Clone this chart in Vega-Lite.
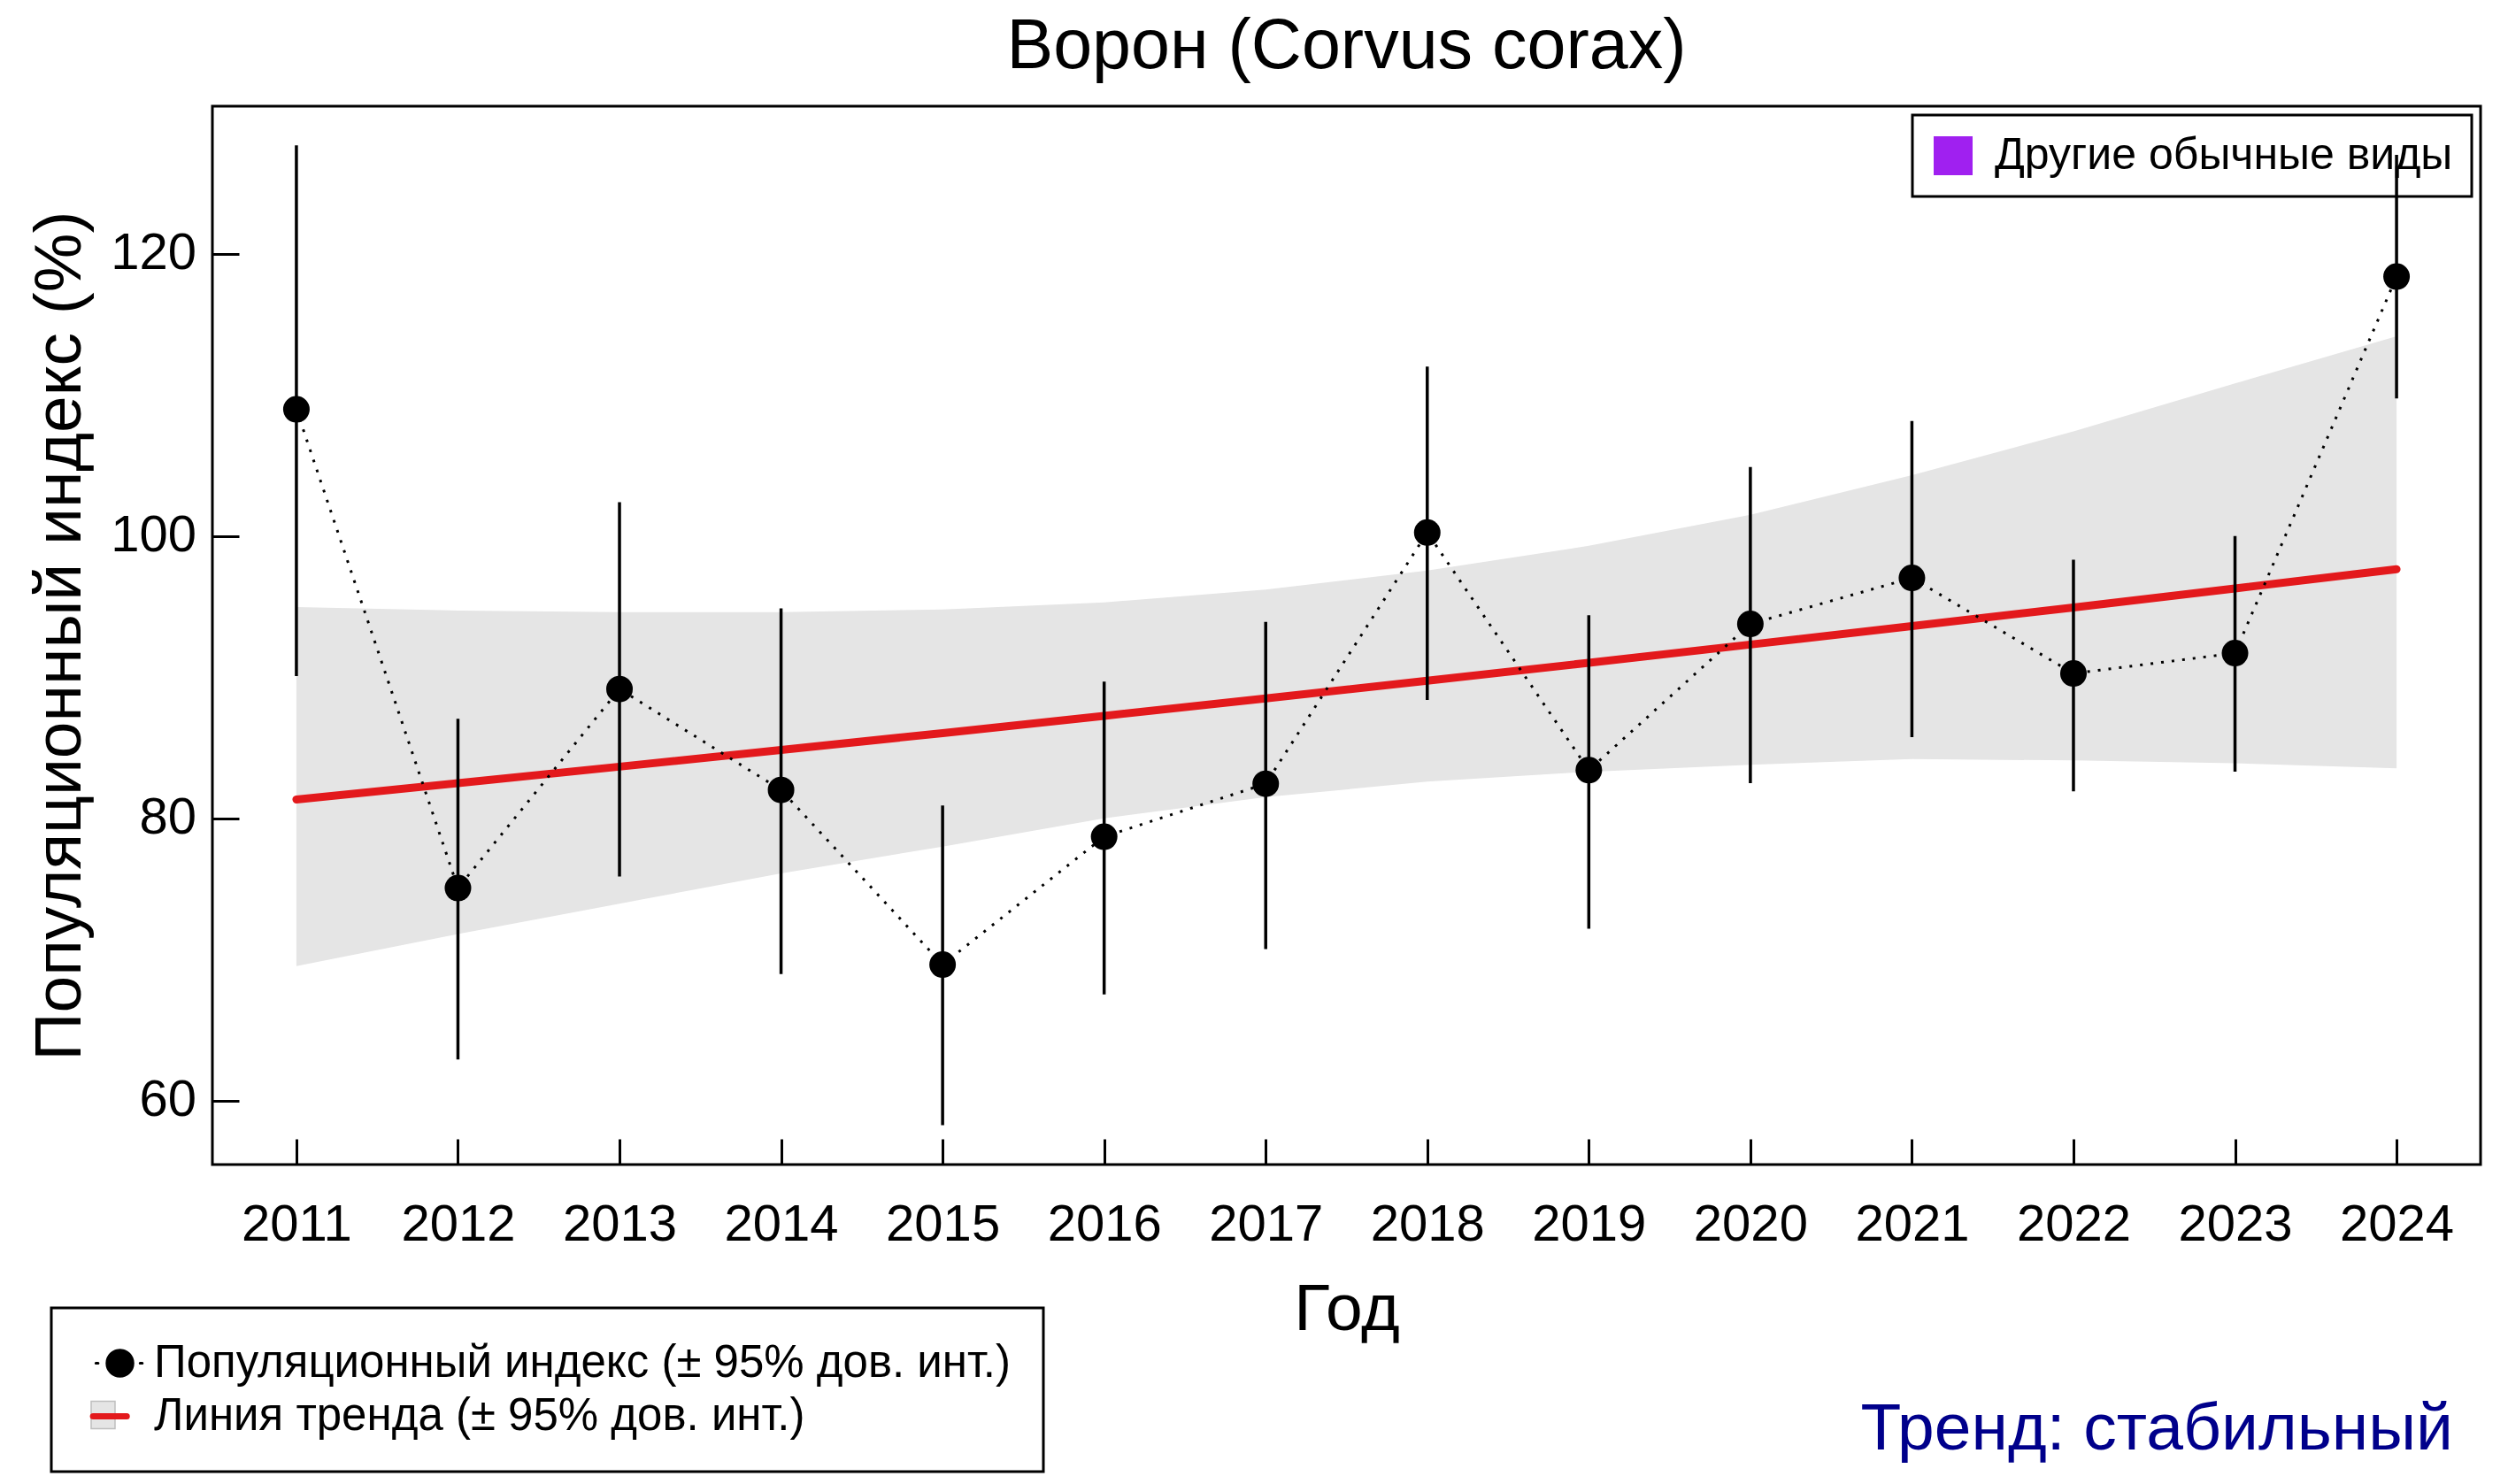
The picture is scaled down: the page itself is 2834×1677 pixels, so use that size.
{
  "$schema": "https://vega.github.io/schema/vega-lite/v6.json",
  "width": 2563,
  "height": 1196,
  "autosize": {"type": "none"},
  "padding": {"left": 240, "top": 120, "right": 31, "bottom": 361},
  "background": "white",
  "title": {"text": "Ворон (Corvus corax)", "fontSize": 79, "fontWeight": "normal", "font": "Liberation Sans", "color": "black", "anchor": "middle", "frame": "group", "baseline": "alphabetic", "offset": -36},
  "data": {"values": [
    {"year": 2011, "index": 108.97, "lo": 90.07, "hi": 127.67, "trend": 81.34, "tlo": 69.54, "thi": 94.96},
    {"year": 2012, "index": 75.06, "lo": 62.93, "hi": 87.05, "trend": 82.49, "tlo": 71.8, "thi": 94.72},
    {"year": 2013, "index": 89.16, "lo": 75.88, "hi": 102.4, "trend": 83.66, "tlo": 73.96, "thi": 94.6},
    {"year": 2014, "index": 82.01, "lo": 68.97, "hi": 94.87, "trend": 84.84, "tlo": 76.1, "thi": 94.6},
    {"year": 2015, "index": 69.64, "lo": 58.27, "hi": 80.91, "trend": 86.04, "tlo": 78.0, "thi": 94.8},
    {"year": 2016, "index": 78.7, "lo": 67.53, "hi": 89.69, "trend": 87.26, "tlo": 80.0, "thi": 95.3},
    {"year": 2017, "index": 82.45, "lo": 70.74, "hi": 93.91, "trend": 88.5, "tlo": 81.5, "thi": 96.2},
    {"year": 2018, "index": 100.24, "lo": 88.39, "hi": 111.99, "trend": 89.75, "tlo": 82.6, "thi": 97.55},
    {"year": 2019, "index": 83.41, "lo": 72.18, "hi": 94.39, "trend": 91.02, "tlo": 83.3, "thi": 99.3},
    {"year": 2020, "index": 93.77, "lo": 82.49, "hi": 104.89, "trend": 92.31, "tlo": 83.8, "thi": 101.5},
    {"year": 2021, "index": 97.03, "lo": 85.76, "hi": 108.15, "trend": 93.62, "tlo": 84.2, "thi": 104.3},
    {"year": 2022, "index": 90.26, "lo": 81.92, "hi": 98.32, "trend": 94.94, "tlo": 84.1, "thi": 107.4},
    {"year": 2023, "index": 91.7, "lo": 83.31, "hi": 100.0, "trend": 96.28, "tlo": 83.9, "thi": 110.8},
    {"year": 2024, "index": 118.37, "lo": 109.74, "hi": 127.0, "trend": 97.65, "tlo": 83.55, "thi": 114.15}
  ]},
  "layer": [
    {
      "mark": {"type": "area", "opacity": 1},
      "encoding": {
        "x": {"field": "year", "type": "quantitative", "scale": {"domain": [2010.48, 2024.52], "nice": false, "zero": false},
          "axis": {"values": [2011, 2012, 2013, 2014, 2015, 2016, 2017, 2018, 2019, 2020, 2021, 2022, 2023, 2024], "format": "d", "tickSize": -29, "labelPadding": 68, "labelFlush": false, "labelOverlap": false, "title": "Год", "titleX": 1281.5, "titleY": 186, "titleBaseline": "alphabetic", "titleAlign": "center"}},
        "y": {"field": "tlo", "type": "quantitative", "scale": {"domain": [55.48, 130.44], "nice": false, "zero": false},
          "axis": {"values": [60, 80, 100, 120], "tickSize": -30, "labelPadding": 48.5, "labelFlush": false, "labelOverlap": false, "title": "Популяционный индекс (%)", "titleX": -150, "titleY": 598, "titleAngle": 270, "titleBaseline": "alphabetic", "titleAlign": "center"}},
        "y2": {"field": "thi"},
        "fill": {"datum": "Линия тренда (± 95% дов. инт.)", "scale": {"domain": ["Линия тренда (± 95% дов. инт.)"], "range": ["#E5E5E5"]},
          "legend": {"orient": "none", "legendX": -140, "legendY": 1462.5, "title": null, "padding": 0, "symbolType": "M-0.87,-1H0.87V1H-0.87Z", "symbolSize": 961, "symbolStrokeColor": "#BEBEBE", "symbolStrokeWidth": 1.5, "symbolOpacity": 1, "labelFontSize": 2, "labelExpr": "''"}}
      }
    },
    {
      "mark": {"type": "line", "strokeWidth": 9, "strokeCap": "round"},
      "encoding": {
        "x": {"field": "year", "type": "quantitative", "scale": {"domain": [2010.48, 2024.52], "nice": false, "zero": false},
          "axis": {"values": [2011, 2012, 2013, 2014, 2015, 2016, 2017, 2018, 2019, 2020, 2021, 2022, 2023, 2024], "format": "d", "tickSize": -29, "labelPadding": 68, "labelFlush": false, "labelOverlap": false, "title": "Год", "titleX": 1281.5, "titleY": 186, "titleBaseline": "alphabetic", "titleAlign": "center"}},
        "y": {"field": "trend", "type": "quantitative", "scale": {"domain": [55.48, 130.44], "nice": false, "zero": false},
          "axis": {"values": [60, 80, 100, 120], "tickSize": -30, "labelPadding": 48.5, "labelFlush": false, "labelOverlap": false, "title": "Популяционный индекс (%)", "titleX": -150, "titleY": 598, "titleAngle": 270, "titleBaseline": "alphabetic", "titleAlign": "center"}},
        "stroke": {"datum": "Линия тренда (± 95% дов. инт.)", "scale": {"domain": ["Популяционный индекс (± 95% дов. инт.)", "Линия тренда (± 95% дов. инт.)"], "range": ["black", "#E3191C"]},
          "legend": {"orient": "none", "legendX": -182, "legendY": 1358, "title": null, "direction": "vertical", "padding": 37, "rowPadding": 8, "symbolSize": 4096, "symbolOffset": 8, "labelFontSize": 51, "labelOffset": 20, "labelLimit": 0, "labelColor": "black", "strokeColor": "black",
            "encode": {
              "legend": {"update": {"strokeWidth": {"signal": "3"}}},
              "symbols": {"update": {
                "shape": {"signal": "datum.index === 0 ? 'M-0.24,0A0.46,0.46 0 1,0 0.68,0A0.46,0.46 0 1,0 -0.24,0Z M-0.63,0H-0.55 M0.93,0H1.01' : 'M-0.73,0H0.46'"},
                "size": {"signal": "4096"},
                "fill": {"signal": "datum.index === 0 ? 'black' : 'transparent'"},
                "stroke": {"signal": "datum.index === 0 ? 'black' : '#E3191C'"},
                "strokeWidth": {"signal": "datum.index === 0 ? 3 : 7"},
                "strokeCap": {"signal": "'round'"},
                "opacity": {"signal": "1"}
              }}
            }}}
      }
    },
    {
      "mark": {"type": "rule", "strokeWidth": 3.5, "color": "black"},
      "encoding": {
        "x": {"field": "year", "type": "quantitative", "scale": {"domain": [2010.48, 2024.52], "nice": false, "zero": false},
          "axis": {"values": [2011, 2012, 2013, 2014, 2015, 2016, 2017, 2018, 2019, 2020, 2021, 2022, 2023, 2024], "format": "d", "tickSize": -29, "labelPadding": 68, "labelFlush": false, "labelOverlap": false, "title": "Год", "titleX": 1281.5, "titleY": 186, "titleBaseline": "alphabetic", "titleAlign": "center"}},
        "y": {"field": "lo", "type": "quantitative", "scale": {"domain": [55.48, 130.44], "nice": false, "zero": false},
          "axis": {"values": [60, 80, 100, 120], "tickSize": -30, "labelPadding": 48.5, "labelFlush": false, "labelOverlap": false, "title": "Популяционный индекс (%)", "titleX": -150, "titleY": 598, "titleAngle": 270, "titleBaseline": "alphabetic", "titleAlign": "center"}},
        "y2": {"field": "hi"},
        "opacity": {"datum": "Другие обычные виды", "scale": {"domain": ["Другие обычные виды"], "range": [1]},
          "legend": {"orient": "top-right", "offset": 10, "title": null, "padding": 21, "symbolType": "square", "symbolSize": 1936, "symbolFillColor": "#A020F0", "symbolStrokeColor": "transparent", "symbolStrokeWidth": 0, "symbolOpacity": 1, "labelFontSize": 50, "labelOffset": 22, "labelLimit": 0, "labelColor": "black", "strokeColor": "black",
            "encode": {
              "legend": {"update": {"strokeWidth": {"signal": "3"}}},
              "symbols": {"update": {"shape": {"signal": "'square'"}, "fill": {"signal": "'#A020F0'"}, "strokeWidth": {"signal": "0"}, "size": {"signal": "1936"}, "opacity": {"signal": "1"}}}
            }}}
      }
    },
    {
      "mark": {"type": "line", "strokeWidth": 3, "strokeDash": [3, 9], "color": "black"},
      "encoding": {
        "x": {"field": "year", "type": "quantitative", "scale": {"domain": [2010.48, 2024.52], "nice": false, "zero": false},
          "axis": {"values": [2011, 2012, 2013, 2014, 2015, 2016, 2017, 2018, 2019, 2020, 2021, 2022, 2023, 2024], "format": "d", "tickSize": -29, "labelPadding": 68, "labelFlush": false, "labelOverlap": false, "title": "Год", "titleX": 1281.5, "titleY": 186, "titleBaseline": "alphabetic", "titleAlign": "center"}},
        "y": {"field": "index", "type": "quantitative", "scale": {"domain": [55.48, 130.44], "nice": false, "zero": false},
          "axis": {"values": [60, 80, 100, 120], "tickSize": -30, "labelPadding": 48.5, "labelFlush": false, "labelOverlap": false, "title": "Популяционный индекс (%)", "titleX": -150, "titleY": 598, "titleAngle": 270, "titleBaseline": "alphabetic", "titleAlign": "center"}},
        "opacity": {"datum": "Другие обычные виды", "scale": {"domain": ["Другие обычные виды"], "range": [1]},
          "legend": {"orient": "top-right", "offset": 10, "title": null, "padding": 21, "symbolType": "square", "symbolSize": 1936, "symbolFillColor": "#A020F0", "symbolStrokeColor": "transparent", "symbolStrokeWidth": 0, "symbolOpacity": 1, "labelFontSize": 50, "labelOffset": 22, "labelLimit": 0, "labelColor": "black", "strokeColor": "black",
            "encode": {
              "legend": {"update": {"strokeWidth": {"signal": "3"}}},
              "symbols": {"update": {"shape": {"signal": "'square'"}, "fill": {"signal": "'#A020F0'"}, "strokeWidth": {"signal": "0"}, "size": {"signal": "1936"}, "opacity": {"signal": "1"}}}
            }}}
      }
    },
    {
      "mark": {"type": "point", "filled": true, "fill": "black", "size": 900, "strokeWidth": 0, "opacity": 1},
      "encoding": {
        "x": {"field": "year", "type": "quantitative", "scale": {"domain": [2010.48, 2024.52], "nice": false, "zero": false},
          "axis": {"values": [2011, 2012, 2013, 2014, 2015, 2016, 2017, 2018, 2019, 2020, 2021, 2022, 2023, 2024], "format": "d", "tickSize": -29, "labelPadding": 68, "labelFlush": false, "labelOverlap": false, "title": "Год", "titleX": 1281.5, "titleY": 186, "titleBaseline": "alphabetic", "titleAlign": "center"}},
        "y": {"field": "index", "type": "quantitative", "scale": {"domain": [55.48, 130.44], "nice": false, "zero": false},
          "axis": {"values": [60, 80, 100, 120], "tickSize": -30, "labelPadding": 48.5, "labelFlush": false, "labelOverlap": false, "title": "Популяционный индекс (%)", "titleX": -150, "titleY": 598, "titleAngle": 270, "titleBaseline": "alphabetic", "titleAlign": "center"}},
        "stroke": {"datum": "Популяционный индекс (± 95% дов. инт.)", "scale": {"domain": ["Популяционный индекс (± 95% дов. инт.)", "Линия тренда (± 95% дов. инт.)"], "range": ["black", "#E3191C"]},
          "legend": {"orient": "none", "legendX": -182, "legendY": 1358, "title": null, "direction": "vertical", "padding": 37, "rowPadding": 8, "symbolSize": 4096, "symbolOffset": 8, "labelFontSize": 51, "labelOffset": 20, "labelLimit": 0, "labelColor": "black", "strokeColor": "black",
            "encode": {
              "legend": {"update": {"strokeWidth": {"signal": "3"}}},
              "symbols": {"update": {
                "shape": {"signal": "datum.index === 0 ? 'M-0.24,0A0.46,0.46 0 1,0 0.68,0A0.46,0.46 0 1,0 -0.24,0Z M-0.63,0H-0.55 M0.93,0H1.01' : 'M-0.73,0H0.46'"},
                "size": {"signal": "4096"},
                "fill": {"signal": "datum.index === 0 ? 'black' : 'transparent'"},
                "stroke": {"signal": "datum.index === 0 ? 'black' : '#E3191C'"},
                "strokeWidth": {"signal": "datum.index === 0 ? 3 : 7"},
                "strokeCap": {"signal": "'round'"},
                "opacity": {"signal": "1"}
              }}
            }}}
      }
    },
    {
      "data": {"values": [{"label": "Тренд: стабильный"}]},
      "mark": {"type": "text", "align": "right", "baseline": "alphabetic", "fontSize": 75, "color": "#00008B"},
      "encoding": {
        "x": {"datum": 2024.35, "type": "quantitative", "scale": {"domain": [2010.48, 2024.52], "nice": false, "zero": false},
          "axis": {"values": [2011, 2012, 2013, 2014, 2015, 2016, 2017, 2018, 2019, 2020, 2021, 2022, 2023, 2024], "format": "d", "tickSize": -29, "labelPadding": 68, "labelFlush": false, "labelOverlap": false, "title": "Год", "titleX": 1281.5, "titleY": 186, "titleBaseline": "alphabetic", "titleAlign": "center"}},
        "y": {"datum": 35.3, "type": "quantitative", "scale": {"domain": [55.48, 130.44], "nice": false, "zero": false},
          "axis": {"values": [60, 80, 100, 120], "tickSize": -30, "labelPadding": 48.5, "labelFlush": false, "labelOverlap": false, "title": "Популяционный индекс (%)", "titleX": -150, "titleY": 598, "titleAngle": 270, "titleBaseline": "alphabetic", "titleAlign": "center"}},
        "text": {"field": "label"}
      }
    }
  ],
  "config": {
    "font": "Liberation Sans",
    "view": {"stroke": "black", "strokeWidth": 3},
    "axis": {"grid": false, "domain": false, "ticks": true, "tickColor": "black", "tickWidth": 3, "labelColor": "black", "labelFontSize": 58, "labelFont": "Liberation Sans", "titleColor": "black", "titleFontSize": 75, "titleFontWeight": "normal", "titleFont": "Liberation Sans"},
    "legend": {"labelFont": "Liberation Sans"}
  }
}
